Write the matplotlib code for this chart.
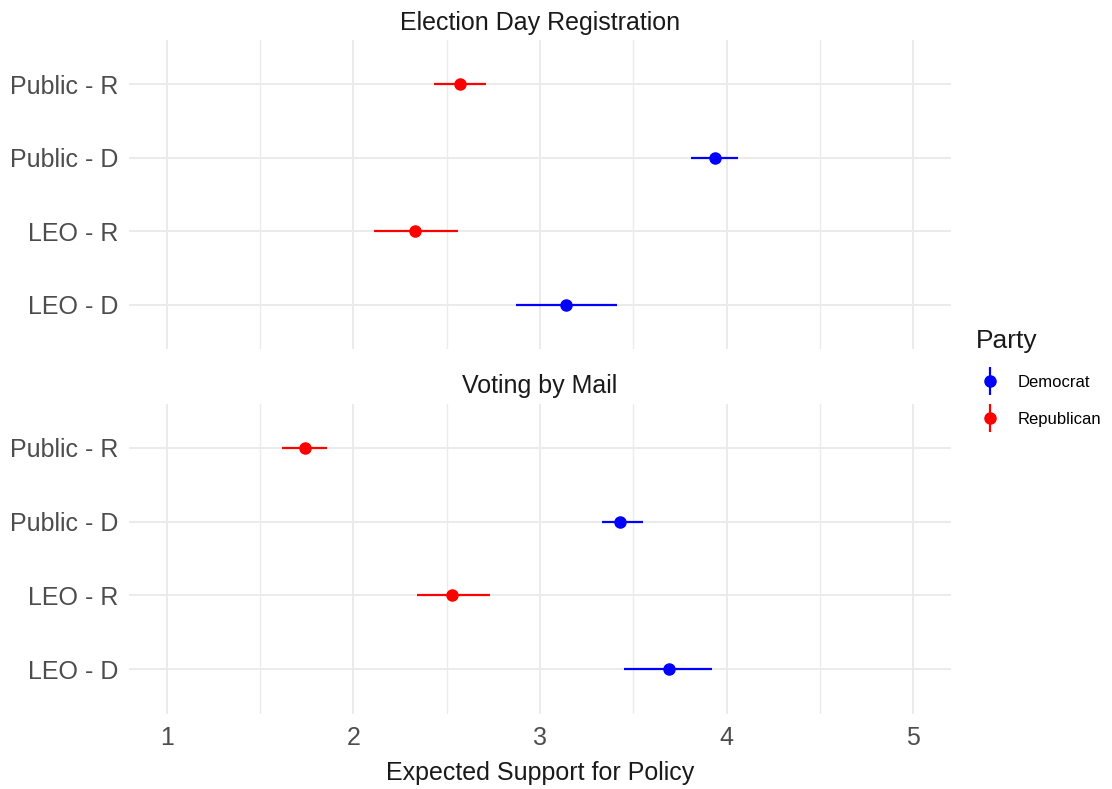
import matplotlib
matplotlib.use("Agg")
import matplotlib.pyplot as plt
from matplotlib.lines import Line2D

plt.rcParams['font.family'] = ['Liberation Sans', 'DejaVu Sans']

# Rows from bottom to top in each facet
groups = ["LEO - D", "LEO - R", "Public - D", "Public - R"]
party = ["Democrat", "Republican", "Democrat", "Republican"]

panels = ["Election Day Registration", "Voting by Mail"]

edr_est = [3.14, 2.33, 3.94, 2.57]
edr_lo = [2.87, 2.11, 3.81, 2.43]
edr_hi = [3.41, 2.56, 4.06, 2.71]

vbm_est = [3.69, 2.53, 3.43, 1.74]
vbm_lo = [3.45, 2.34, 3.33, 1.62]
vbm_hi = [3.92, 2.73, 3.55, 1.86]

xticks = [1, 2, 3, 4, 5]
colors = {"Democrat": "#0000FF", "Republican": "#FF0000"}

W, H = 1112, 789
fig = plt.figure(figsize=(W / 100, H / 100), dpi=100)

def frac_box(x0, y0, x1, y1):
    return [x0 / W, 1 - y1 / H, (x1 - x0) / W, (y1 - y0) / H]

axes = [fig.add_axes(frac_box(129.3, 40, 950.7, 349)),
        fig.add_axes(frac_box(129.3, 403.5, 950.7, 713.5))]

data = [(edr_est, edr_lo, edr_hi), (vbm_est, vbm_lo, vbm_hi)]
grid_c = "#EBEBEB"
for ax, title, (est, lo, hi) in zip(axes, panels, data):
    ypos = list(range(1, len(groups) + 1))
    for y, e, l, h, p in zip(ypos, est, lo, hi, party):
        c = colors[p]
        ax.plot([l, h], [y, y], color=c, lw=1.6, solid_capstyle="butt", zorder=3)
        ax.plot([e], [y], marker="o", ms=8, color=c, mec=c, zorder=4)
    ax.set_xlim(0.8, 5.2)
    ax.set_ylim(0.4, len(groups) + 0.6)
    ax.set_yticks(ypos)
    ax.set_yticklabels(groups)
    ax.set_xticks(xticks)
    ax.set_xticks([1.5, 2.5, 3.5, 4.5], minor=True)
    ax.grid(True, which="major", color=grid_c, lw=1.4)
    ax.grid(True, which="minor", axis="x", color=grid_c, lw=1.0)
    ax.set_axisbelow(True)
    for s in ax.spines.values():
        s.set_visible(False)
    ax.tick_params(which="both", length=0, labelsize=18, labelcolor="#4D4D4D", pad=8)
    ax.set_title(title, fontsize=18, color="#1A1A1A", pad=7.5)

axes[0].tick_params(axis="x", labelbottom=False)
axes[1].tick_params(axis="x", pad=9)
axes[1].set_xlabel("Expected Support for Policy", fontsize=18, color="#1A1A1A", labelpad=8)

# Legend
handles = []
for p in ["Democrat", "Republican"]:
    c = colors[p]
    handles.append((Line2D([], [], marker="|", ms=20, mew=1.6, color=c, ls="none"),
                    Line2D([], [], marker="o", ms=8, color=c, ls="none")))
leg = fig.legend(handles, ["Democrat", "Republican"], title="Party",
                 loc="upper left", bbox_to_anchor=(963 / W, 1 - 316 / H),
                 frameon=False, fontsize=12, title_fontsize=19,
                 handlelength=1.6, handletextpad=0.85, labelspacing=1.3,
                 borderpad=0.3)
leg._legend_box.align = "left"
leg.get_title().set_color("#1A1A1A")

fig.savefig("out.png", dpi=100, facecolor="white")
